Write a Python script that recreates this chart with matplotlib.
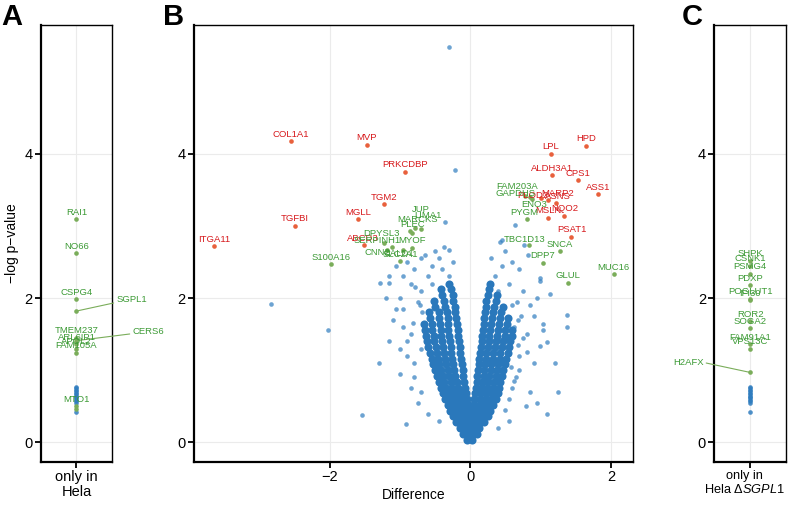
import numpy as np
import matplotlib
matplotlib.use('Agg')
from matplotlib import pyplot as plt

plt.rcParams['font.family'] = ['Liberation Sans', 'DejaVu Sans']
plt.rcParams['mathtext.fontset'] = 'custom'
plt.rcParams['mathtext.rm'] = 'Liberation Sans'
plt.rcParams['mathtext.it'] = 'Liberation Sans:italic'

# --- panel B: dense centre of the volcano, read row by row (-log p, difference) ---
core_rows_y = [0.04, 0.12, 0.20, 0.28, 0.36, 0.44, 0.52, 0.60, 0.68, 0.76, 0.84, 0.92,
               1.00, 1.08, 1.16, 1.24, 1.32, 1.40, 1.48, 1.56, 1.64, 1.72, 1.80, 1.88,
               1.96, 2.04, 2.12, 2.20]
core_rows_x = [
    [-0.04, 0.02],
    [-0.1, -0.03, 0.04, 0.1],
    [-0.15, -0.08, -0.01, 0.06, 0.13],
    [-0.2, -0.13, -0.06, 0.01, 0.08, 0.15, 0.2],
    [-0.25, -0.17, -0.1, -0.03, 0.04, 0.11, 0.18, 0.25],
    [-0.29, -0.21, -0.14, -0.07, 0.0, 0.07, 0.14, 0.21, 0.28],
    [-0.32, -0.25, -0.17, -0.09, -0.02, 0.05, 0.12, 0.19, 0.26, 0.32],
    [-0.36, -0.28, -0.2, -0.12, -0.04, 0.06, 0.14, 0.22, 0.29, 0.36],
    [-0.39, -0.31, -0.23, -0.15, -0.06, 0.07, 0.15, 0.23, 0.31, 0.39],
    [-0.42, -0.34, -0.26, -0.18, -0.07, 0.08, 0.16, 0.24, 0.32, 0.41],
    [-0.45, -0.37, -0.28, -0.19, -0.09, 0.09, 0.17, 0.25, 0.34, 0.43],
    [-0.48, -0.39, -0.3, -0.21, -0.1, 0.1, 0.19, 0.27, 0.36, 0.45],
    [-0.5, -0.41, -0.32, -0.23, -0.11, 0.11, 0.2, 0.29, 0.38, 0.47],
    [-0.53, -0.44, -0.34, -0.24, -0.12, 0.12, 0.21, 0.3, 0.4, 0.49],
    [-0.55, -0.46, -0.36, -0.26, -0.13, 0.13, 0.22, 0.32, 0.42, 0.51],
    [-0.57, -0.47, -0.37, -0.27, -0.14, 0.14, 0.23, 0.33, 0.43, 0.53],
    [-0.6, -0.49, -0.39, -0.28, -0.15, 0.15, 0.25, 0.35, 0.45, 0.55],
    [-0.62, -0.51, -0.4, -0.29, -0.16, 0.16, 0.26, 0.36, 0.47, 0.57],
    [-0.63, -0.52, -0.41, -0.3, -0.17, 0.17, 0.27, 0.38, 0.49, 0.59],
    [-0.65, -0.54, -0.42, -0.31, -0.18, 0.18, 0.28, 0.39, 0.5, 0.6],
    [-0.66, -0.55, -0.43, -0.31, -0.19, 0.19, 0.3, 0.41, 0.52],
    [-0.57, -0.44, -0.32, -0.2, 0.2, 0.31, 0.42, 0.54],
    [-0.58, -0.45, -0.33, -0.21, 0.21, 0.32, 0.44],
    [-0.5, -0.36, -0.22, 0.22, 0.34, 0.46],
    [-0.52, -0.38, -0.24, 0.23, 0.36],
    [-0.4, -0.25, 0.25, 0.38],
    [-0.42, -0.27, 0.26],
    [-0.3, 0.28],
]

# --- panel B: scattered unlabelled proteins ---
scatter_x = [-2.84, -2.02, -1.54, -0.92, -1.28, -1.16, -1.15, -1.0, -0.95, -1.1,
             -0.85, -0.9, -0.8, -0.7, -1.0, -0.75, -0.7, -0.6, -0.55, -0.45,
             -0.37, -0.30, -0.36, -0.21, -0.30, -0.65, -0.8, -0.9, -0.78, -0.68,
             -1.05, -0.95, -0.85, -1.2, -1.05, -0.95, -1.15, -1.0, -0.8, -0.75,
             -0.6, -0.45, -0.85, -1.3, -0.7, -0.5, -0.4, -0.3, -0.55, -0.25,
             -0.72, -0.82, -0.9, -0.7,
             0.63, 0.43, 0.45, 0.77, 0.82, 1.38, 1.37, 1.13, 0.99, 0.99,
             1.04, 1.04, 1.09, 0.99, 1.09, 0.79, 0.7, 0.6, 0.55, 0.75,
             0.85, 0.9, 0.8, 0.7, 0.65, 0.6, 0.55, 0.5, 0.9, 0.95,
             0.66, 0.72, 0.62, 0.68, 0.58,
             0.35, 0.45, 0.3, 0.5, 0.4, 0.6, 0.68, 0.75, 0.8, 0.7,
             0.62, 0.55, 0.4, 0.85, 1.2, 1.25, 0.95]
scatter_y = [1.92, 1.56, 0.38, 0.25, 2.21, 2.21, 2.31, 2.0, 1.85, 1.7,
             1.5, 1.2, 0.9, 0.7, 0.95, 1.95, 2.1, 2.3, 2.45, 2.55,
             2.71, 2.67, 3.05, 3.77, 5.48, 2.6, 2.4, 2.5, 2.15, 1.8,
             2.45, 2.3, 2.2, 2.0, 1.85, 1.6, 1.4, 1.3, 1.1, 0.55,
             0.4, 0.3, 0.75, 1.1, 2.55, 2.65, 2.4, 2.3, 2.2, 2.5,
             1.9, 1.65, 1.4, 1.3,
             3.01, 2.78, 2.81, 2.73, 2.60, 1.76, 1.60, 2.05, 2.28, 2.24,
             1.64, 1.56, 1.39, 1.33, 0.39, 0.51, 2.4, 2.5, 2.2, 2.1,
             1.9, 1.75, 1.5, 1.2, 0.9, 0.75, 0.6, 0.45, 1.1, 2.0,
             1.95, 1.75, 1.6, 1.35, 1.05,
             2.3, 2.45, 2.55, 2.65, 2.1, 1.9, 1.7, 1.45, 1.25, 1.0,
             0.85, 0.3, 0.2, 0.7, 1.1, 0.7, 0.55]

# --- panel B: labelled proteins ---
red_names = ['COL1A1', 'MVP', 'PRKCDBP', 'TGM2', 'MGLL', 'TGFBI', 'ITGA11', 'ABCD3',
             'HPD', 'LPL', 'ALDH3A1', 'CPS1', 'ASS1', 'PLOD2', 'MARP2', 'ASNS',
             'NQO2', 'MSLN', 'PSAT1']
red_x = [-2.55, -1.47, -0.93, -1.23, -1.60, -2.49, -3.64, -1.51,
         1.65, 1.15, 1.16, 1.53, 1.82, 1.00, 1.10, 1.22,
         1.34, 1.10, 1.44]
red_y = [4.17, 4.12, 3.75, 3.30, 3.09, 3.00, 2.72, 2.73,
         4.11, 4.00, 3.70, 3.63, 3.44, 3.38, 3.36, 3.32,
         3.14, 3.11, 2.85]

green_names = ['S100A16', 'JUP', 'LIMA1', 'MARCKS', 'PLEC', 'DPYSL3', 'SERPINH1',
               'MYOF', 'CNN2', 'CALD1', 'SLC2A1',
               'FAM203A', 'GAPDHS', 'ENO3', 'PYGM', 'TBC1D13', 'SNCA', 'DPP7',
               'GLUL', 'MUC16']
green_x = [-1.98, -0.78, -0.70, -0.86, -0.83, -1.23, -1.11,
           -0.83, -1.18, -0.95, -1.00,
           0.78, 0.85, 0.88, 0.81, 0.84, 1.27, 1.03,
           1.39, 2.04]
green_y = [2.47, 2.97, 2.95, 2.93, 2.90, 2.76, 2.71,
           2.70, 2.66, 2.66, 2.51,
           3.42, 3.40, 3.37, 3.10, 2.73, 2.65, 2.49,
           2.21, 2.33]

# --- panels A and C: only detected in one cell line ---
a_names = ['RAI1', 'NO66', 'CSPG4', 'SGPL1', 'TMEM237', 'CERS6', 'ARL6IP1', 'APOL2',
           'FAM105A', 'MTO1', '']
a_y = [3.09, 2.62, 1.98, 1.82, 1.45, 1.41, 1.36, 1.30, 1.24, 0.50, 0.46]
a_blue = [0.77, 0.75, 0.73, 0.71, 0.69, 0.67, 0.65, 0.63, 0.61, 0.59, 0.57, 0.55, 0.42]

c_names = ['SHPK', 'CSNK1', 'PSMG4', 'PDXP', 'POGLUT1', 'IFI30', 'ROR2', 'SOGA2',
           'FAM91A1', 'VPS13C', 'H2AFX']
c_y = [2.52, 2.45, 2.34, 2.18, 1.99, 1.97, 1.68, 1.58, 1.36, 1.30, 0.97]
c_blue = [0.77, 0.75, 0.73, 0.71, 0.69, 0.67, 0.65, 0.63, 0.61, 0.59, 0.57, 0.55, 0.42]

blue = '#2f7dbf'
red_txt = '#d7191c'
red_pt = '#e8603c'
green_txt = '#3c9a35'
green_pt = '#7aad5a'
lab_size = 6.8

# label offsets in pixels (default: centred just above the point)
offsets = {'JUP': (5, 19), 'LIMA1': (7, 14), 'MARCKS': (8, 11), 'PLEC': (1, 9),
           'DPYSL3': (-2, 10), 'SERPINH1': (-15, 6), 'CNN2': (-10, -2),
           'CALD1': (-5, -3), 'ABCD3': (-1, 7),
           'FAM203A': (-8, 9), 'GAPDHS': (-14, 3), 'PLOD2': (-8, 3), 'MARP2': (10, 6),
           'ASNS': (2, 6), 'ENO3': (2, -5), 'PYGM': (-3, 6), 'TBC1D13': (-5, 6),
           'MSLN': (1, 7), 'NQO2': (0, 7)}


def style_axes(ax):
    ax.set_ylim(-0.27, 5.78)
    ax.set_yticks([0, 2, 4])
    ax.grid(True, color='#ebebeb', lw=0.8)
    ax.set_axisbelow(True)
    for side in ['left', 'bottom']:
        ax.spines[side].set_linewidth(1.6)
    for side in ['top', 'right']:
        ax.spines[side].set_linewidth(1.0)
    ax.tick_params(length=4, width=1.3, labelsize=10.5, colors='black', pad=2)


def label(ax, x, y, name, color):
    dx, dy = offsets.get(name, (0, 7))
    ax.annotate(name, (x, y), xytext=(dx, dy), textcoords='offset pixels',
                ha='center', va='center', fontsize=lab_size, color=color)


fig = plt.figure(figsize=(7.94, 5.08), dpi=100)
axA = fig.add_axes([0.0516, 0.0906, 0.0894, 0.860])
axB = fig.add_axes([0.2443, 0.0906, 0.5525, 0.860])
axC = fig.add_axes([0.8996, 0.0906, 0.0903, 0.860])

# panel B
core_x, core_y = [], []
for y, xs in zip(core_rows_y, core_rows_x):
    core_x += xs
    core_y += [y] * len(xs)
axB.scatter(core_x, core_y, s=34, color='#2a78bb', lw=0)
axB.scatter(scatter_x, scatter_y, s=11, color=blue, alpha=0.7, lw=0)
axB.scatter(red_x, red_y, s=11, color=red_pt, lw=0, zorder=3)
axB.scatter(green_x, green_y, s=11, color=green_pt, lw=0, zorder=3)
for x, y, n in zip(red_x, red_y, red_names):
    label(axB, x, y, n, red_txt)
for x, y, n in zip(green_x, green_y, green_names):
    label(axB, x, y, n, green_txt)
axB.set_xlim(-3.93, 2.31)
axB.set_xticks([-2, 0, 2])
axB.set_xticklabels(['\u22122', '0', '2'])
axB.set_xlabel('Difference', fontsize=10, labelpad=3)
style_axes(axB)

# panel A
axA.scatter([0] * len(a_blue), a_blue, s=11, color=blue, alpha=0.85, lw=0)
axA.scatter([0] * len(a_y), a_y, s=11, color=green_pt, lw=0, zorder=3)
for y, n in zip(a_y, a_names):
    if n == 'SGPL1':
        axA.annotate(n, (0, y), xytext=(40, 12), textcoords='offset pixels',
                     ha='left', va='center', fontsize=lab_size, color=green_txt,
                     annotation_clip=False,
                     arrowprops=dict(arrowstyle='-', color=green_pt, lw=0.8,
                                     shrinkA=0, shrinkB=0))
    elif n == 'CERS6':
        axA.annotate(n, (0, y), xytext=(56, 9), textcoords='offset pixels',
                     ha='left', va='center', fontsize=lab_size, color=green_txt,
                     annotation_clip=False,
                     arrowprops=dict(arrowstyle='-', color=green_pt, lw=0.8,
                                     shrinkA=0, shrinkB=0))
    elif n:
        label(axA, 0, y, n, green_txt)
axA.set_xlim(-1, 1)
axA.set_xticks([0])
axA.set_xticklabels(['only in\nHela'], fontsize=9.5, linespacing=1.1)
axA.set_ylabel('\u2212log p\u2212value', fontsize=10, labelpad=4)
style_axes(axA)

# panel C
axC.scatter([0] * len(c_blue), c_blue, s=11, color=blue, alpha=0.85, lw=0)
axC.scatter([0] * len(c_y), c_y, s=11, color=green_pt, lw=0, zorder=3)
for y, n in zip(c_y, c_names):
    if n == 'H2AFX':
        axC.annotate(n, (0, y), xytext=(-62, 10), textcoords='offset pixels',
                     ha='center', va='center', fontsize=lab_size, color=green_txt,
                     annotation_clip=False,
                     arrowprops=dict(arrowstyle='-', color=green_pt, lw=0.8,
                                     shrinkA=0, shrinkB=0, relpos=(1, 0.5)))
    else:
        label(axC, 0, y, n, green_txt)
axC.set_xlim(-1, 1)
axC.set_xticks([0])
axC.set_xticklabels([''])
axC.annotate('only in\nHela \u0394$\\it{SGPL1}$', (0.5, 0), xycoords='axes fraction',
             xytext=(-6, -8), textcoords='offset pixels', ha='center', va='top',
             fontsize=9.2, linespacing=1.1, annotation_clip=False)
style_axes(axC)

fig.text(0.002, 0.995, 'A', fontsize=21, fontweight='bold', va='top', ha='left')
fig.text(0.205, 0.995, 'B', fontsize=21, fontweight='bold', va='top', ha='left')
fig.text(0.858, 0.995, 'C', fontsize=21, fontweight='bold', va='top', ha='left')

fig.savefig('out.png', dpi=100)
